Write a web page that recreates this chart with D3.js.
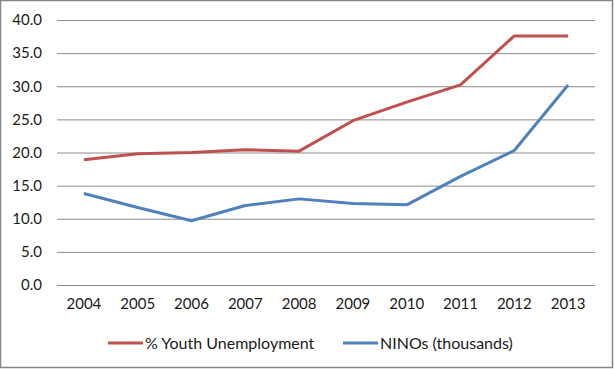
<!DOCTYPE html>
<html><head><meta charset="utf-8">
<script src="https://cdn.jsdelivr.net/npm/d3@7"></script>
<style>body{margin:0;background:#fff}svg{display:block}text{font-family:Lato,"Open Sans",sans-serif;fill:#1a1a1a}</style>
</head><body>
<script>
const years = ["2004","2005","2006","2007","2008","2009","2010","2011","2012","2013"];
const youthUnemployment = [18.9,19.8,20.0,20.4,20.2,24.8,27.6,30.2,37.6,37.6];
const ninos = [13.8,11.7,9.7,12.0,13.0,12.3,12.1,16.4,20.3,30.2];
const yTicks = [0,5,10,15,20,25,30,35,40];
const seriesNames = ["% Youth Unemployment","NINOs (thousands)"];
const colors = ["#C0504D","#4F81BD"];

(function(){
const W=614,H=369;
const svg=d3.select("body").append("svg").attr("width",W).attr("height",H);
svg.append("rect").attr("x",0.5).attr("y",0.5).attr("width",W-2).attr("height",H-2).attr("fill","#fff").attr("stroke","#868686").attr("stroke-width",1.5);

const mLeft=57,mRight=595,mTop=20,mBottom=285;
const x=d3.scaleBand().domain(years).range([mLeft,mRight]);
const y=d3.scaleLinear().domain([0,40]).range([mBottom,mTop]);

const gy=svg.append("g").attr("transform",`translate(${mLeft},0)`)
  .call(d3.axisLeft(y).tickValues(yTicks).tickFormat(d3.format(".1f")).tickSize(-(mRight-mLeft)).tickPadding(15));
gy.select(".domain").remove();
gy.selectAll(".tick line").attr("stroke","#8c8c8c").attr("stroke-width",1);
gy.selectAll(".tick text").attr("font-size",15).attr("font-family","Lato,'Open Sans',sans-serif").attr("fill","#1a1a1a");

const gx=svg.append("g").attr("transform",`translate(0,${mBottom})`)
  .call(d3.axisBottom(x).tickSize(0).tickPadding(13));
gx.select(".domain").remove();
gx.selectAll(".tick text").attr("font-size",15).attr("font-family","Lato,'Open Sans',sans-serif").attr("fill","#1a1a1a");

const line=d3.line().x((d,i)=>x(years[i])+x.bandwidth()/2).y(d=>y(d));
[youthUnemployment,ninos].forEach((s,k)=>{
  svg.append("path").datum(s).attr("d",line).attr("fill","none").attr("stroke",colors[k]).attr("stroke-width",3).attr("stroke-linejoin","round");
});

const legX=[108,343];
seriesNames.forEach((n,k)=>{
  svg.append("line").attr("x1",legX[k]).attr("x2",legX[k]+35).attr("y1",343).attr("y2",343).attr("stroke",colors[k]).attr("stroke-width",3);
  svg.append("text").attr("x",legX[k]+37).attr("y",348.5).attr("font-size",16).text(n);
});
})();
</script>
</body></html>
